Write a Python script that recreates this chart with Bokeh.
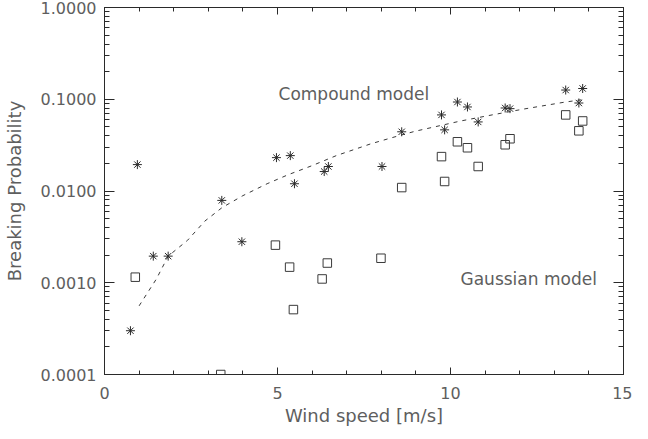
from bokeh.plotting import figure
from bokeh.models import Range1d, LinearAxis, LogAxis, FixedTicker, PrintfTickFormatter, ColumnDataSource
from bokeh.core.properties import value
from bokeh.embed import file_html
from bokeh.resources import INLINE

# Compound model observations (asterisks)
comp_x = [0.75, 0.95, 1.41, 1.84, 3.39, 3.97, 4.97, 5.37, 5.49, 6.35, 6.47, 8.02,
          8.59, 9.74, 9.83, 10.20, 10.49, 10.80, 11.58, 11.72, 13.33, 13.82, 13.71]
comp_y = [0.00030, 0.0194, 0.00195, 0.00195, 0.0079, 0.0028, 0.0231, 0.0243, 0.0120,
          0.0163, 0.0185, 0.0185, 0.0442, 0.0675, 0.0464, 0.0933, 0.0824, 0.0566,
          0.0803, 0.0790, 0.126, 0.131, 0.091]

# Gaussian model observations (squares)
gaus_x = [0.89, 3.36, 4.94, 5.35, 5.46, 6.29, 6.44, 7.99, 8.59, 9.74, 9.83, 10.20,
          10.49, 10.80, 11.58, 11.72, 13.33, 13.82, 13.71]
gaus_y = [0.00115, 0.0001, 0.00257, 0.00148, 0.00051, 0.0011, 0.00164, 0.00185,
          0.0109, 0.0237, 0.0127, 0.0344, 0.0296, 0.0185, 0.0319, 0.0371, 0.0675,
          0.058, 0.0453]

# Dashed model curve
curve_x = [1.0, 1.5, 1.84, 2.4, 2.9, 3.4, 4.0, 4.7, 5.3, 6.0, 6.7, 7.7, 8.6, 9.0,
           10.3, 11.2, 12.1, 13.3, 13.9]
curve_y = [0.00056, 0.0011, 0.00195, 0.0029, 0.0047, 0.0066, 0.0089, 0.012, 0.015,
           0.0189, 0.0243, 0.0327, 0.041, 0.045, 0.058, 0.0675, 0.078, 0.093, 0.10]

x_major = [0, 5, 10, 15]
x_minor = list(range(0, 16))
y_major = [0.0001, 0.001, 0.01, 0.1, 1.0]
y_minor = [k * 10.0 ** e for e in range(-4, 0) for k in range(2, 10)]

labels_text = ["Compound model", "Gaussian model"]
labels_x = [5.03, 10.29]
labels_y = [0.114, 0.0011]

FONT = "DejaVu Sans"
GRAY = "#5e5e5e"
INK = "#2a2a2a"

p = figure(width=632, height=431, output_backend="svg", toolbar_location=None,
           x_range=Range1d(0, 15), y_range=Range1d(0.0001, 1.0), y_axis_type="log",
           min_border_left=101, min_border_right=9, min_border_top=7, min_border_bottom=57)
p.xgrid.visible = False
p.ygrid.visible = False
p.outline_line_color = INK
p.background_fill_color = "white"
p.border_fill_color = "white"

xt = FixedTicker(ticks=x_major, minor_ticks=x_minor)
yt = FixedTicker(ticks=y_major, minor_ticks=y_minor)


def style_common(ax, major_len, minor_len):
    ax.major_tick_in = major_len
    ax.major_tick_out = 0
    ax.minor_tick_in = minor_len
    ax.minor_tick_out = 0
    ax.axis_line_color = INK
    ax.major_tick_line_color = INK
    ax.minor_tick_line_color = INK


def hide_labels(ax):
    ax.major_label_text_font_size = "1px"
    ax.major_label_text_color = None
    ax.major_label_standoff = 0


xa = p.xaxis[0]
xa.ticker = xt
style_common(xa, 7, 4)
xa.major_label_text_font = FONT
xa.major_label_text_font_size = "16px"
xa.major_label_text_color = GRAY
xa.major_label_standoff = 12
xa.axis_label = "Wind speed [m/s]"
xa.axis_label_text_font = FONT
xa.axis_label_text_font_size = "18px"
xa.axis_label_text_font_style = "normal"
xa.axis_label_text_color = GRAY
xa.axis_label_standoff = 3

ya = p.yaxis[0]
ya.ticker = yt
style_common(ya, 10, 5)
ya.formatter = PrintfTickFormatter(format="%.4f")
ya.major_label_text_font = FONT
ya.major_label_text_font_size = "16px"
ya.major_label_text_color = GRAY
ya.major_label_standoff = 8
ya.axis_label = "Breaking Probability"
ya.axis_label_text_font = FONT
ya.axis_label_text_font_size = "18px"
ya.axis_label_text_font_style = "normal"
ya.axis_label_text_color = GRAY
ya.axis_label_standoff = 13

top_ax = LinearAxis(ticker=xt)
style_common(top_ax, 7, 4)
hide_labels(top_ax)
p.add_layout(top_ax, "above")

right_ax = LogAxis(ticker=yt)
style_common(right_ax, 10, 5)
hide_labels(right_ax)
p.add_layout(right_ax, "right")

p.line(curve_x, curve_y, line_color="#3a3a3a", line_width=1, line_dash="4 5")

p.scatter(comp_x, comp_y, marker="asterisk", size=9, line_color=INK, line_width=1)
p.scatter(gaus_x, gaus_y, marker="square", size=8.5, fill_color=None,
          line_color="#3a3a3a", line_width=1)

src = ColumnDataSource(dict(x=labels_x, y=labels_y, t=labels_text))
p.text(x="x", y="y", text="t", source=src, text_font=value(FONT),
       text_font_size="17px", text_color=GRAY, text_baseline="middle", text_align="left")

open("out.html", "w").write(file_html(p, INLINE))
